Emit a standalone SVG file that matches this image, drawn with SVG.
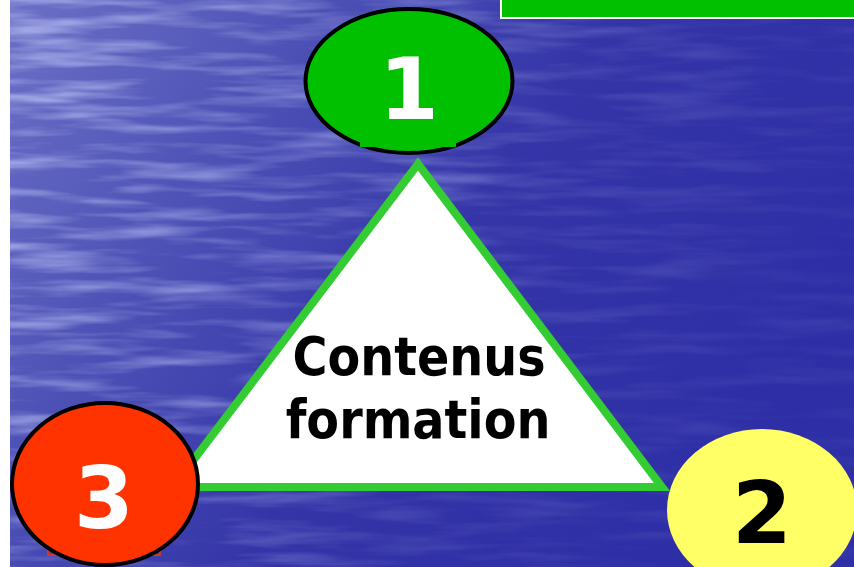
<svg xmlns="http://www.w3.org/2000/svg" width="854" height="567" viewBox="0 0 854 567">
  <defs>
    <linearGradient id="sea" x1="0" y1="0" x2="1" y2="0.45">
      <stop offset="0" stop-color="#6c70c6"/>
      <stop offset="0.3" stop-color="#4e52b6"/>
      <stop offset="0.6" stop-color="#3535a8"/>
      <stop offset="1" stop-color="#2e2ea6"/>
    </linearGradient>
    <linearGradient id="fade" x1="0" y1="0" x2="1" y2="0.35">
      <stop offset="0" stop-color="#fff" stop-opacity="1"/>
      <stop offset="0.35" stop-color="#fff" stop-opacity="0.6"/>
      <stop offset="0.7" stop-color="#fff" stop-opacity="0.2"/>
      <stop offset="1" stop-color="#fff" stop-opacity="0.1"/>
    </linearGradient>
    <mask id="fadeMask">
      <rect x="10" y="0" width="844" height="567" fill="url(#fade)"/>
    </mask>
    <filter id="water" x="0" y="0" width="100%" height="100%" color-interpolation-filters="sRGB">
      <feTurbulence type="fractalNoise" baseFrequency="0.008 0.075" numOctaves="3" seed="7" result="n"/>
      <feColorMatrix in="n" type="matrix" values="0 0 0 0 0.8  0 0 0 0 0.83  0 0 0 0 1  1.8 0 0 0 -0.78"/>
    </filter>
    <style>
      .num { font-family: "DejaVu Sans", "Liberation Sans", sans-serif; font-weight: bold; font-size: 86px; text-anchor: middle; }
      .lbl { font-family: "DejaVu Sans Condensed", "DejaVu Sans", sans-serif; font-weight: bold; font-size: 53px; text-anchor: middle; fill: #000; }
      .outline { stroke: #000; stroke-width: 4; }
    </style>
  </defs>

  <g id="background">
    <rect x="0" y="0" width="854" height="567" fill="#fff"/>
    <rect x="10" y="0" width="844" height="567" fill="url(#sea)"/>
    <rect x="10" y="0" width="844" height="567" fill="#000" filter="url(#water)" mask="url(#fadeMask)"/>
    <rect x="501" y="-3" width="358" height="21" fill="#00c000" stroke="#fff" stroke-width="2"/>
  </g>

  <g id="connectors"></g>

  <g id="node-center">
    <polygon points="418,164 662,487 173,487" fill="#fff" stroke="#33cc33" stroke-width="8" stroke-linejoin="miter"/>
    <text class="lbl" x="419" y="375">Contenus</text>
    <text class="lbl" x="418" y="438">formation</text>
  </g>

  <g id="node-1">
    <ellipse cx="409" cy="81" rx="103.5" ry="72" fill="#00c000" class="outline"/>
    <rect x="360" y="40" width="96" height="107" fill="#00c000"/>
    <text class="num" x="409" y="119" fill="#fff">1</text>
  </g>

  <g id="node-3">
    <rect x="48" y="450" width="112" height="105" fill="none" stroke="#ff3300" stroke-width="1.5"/>
    <ellipse cx="105" cy="484" rx="93" ry="81" fill="#ff3300" class="outline"/>
    <text class="num" x="104" y="528" fill="#fff">3</text>
  </g>

  <g id="node-2">
    <ellipse cx="762" cy="510" rx="95" ry="81" fill="#ffff66"/>
    <text class="num" x="762" y="543" fill="#000">2</text>
  </g>
</svg>
